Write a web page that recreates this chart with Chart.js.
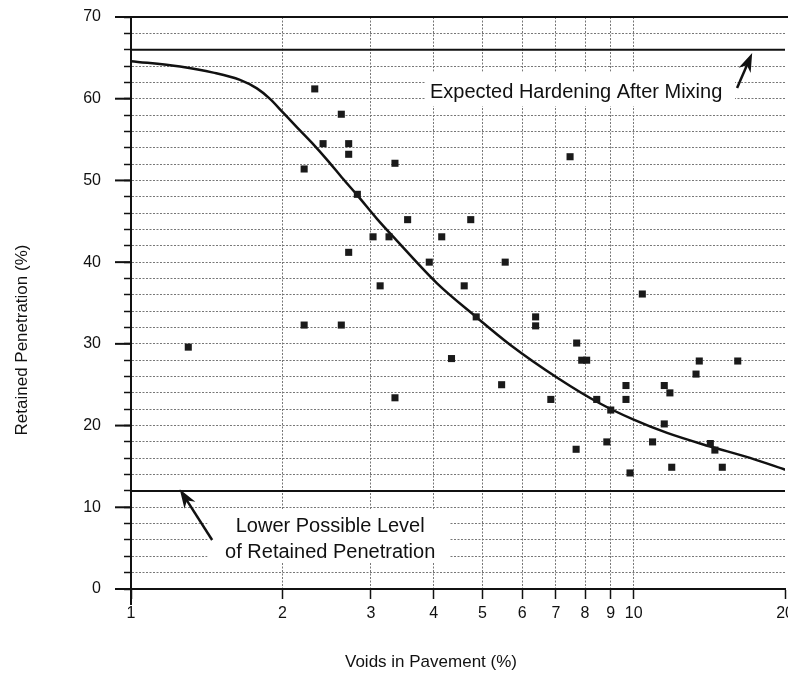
<!DOCTYPE html>
<html>
<head>
<meta charset="utf-8">
<title>Retained Penetration vs Voids in Pavement</title>
<script src="https://cdn.jsdelivr.net/npm/chart.js@4.4.1/dist/chart.umd.min.js"></script>
<style>
  html, body { margin: 0; padding: 0; background: #fff; overflow: hidden; }
</style>
</head>
<body>
<canvas id="chart" width="799" height="679"></canvas>
<script>
// measured samples: voids in pavement (%) and retained penetration (%)
var voids = [1.30, 2.21, 2.32, 2.41, 2.62, 2.71, 2.71, 2.82, 2.71, 2.21, 2.62,
  3.35, 3.55, 4.74, 3.03, 3.26, 4.15, 3.92, 5.55, 3.13, 4.60, 4.86, 4.34, 5.46, 3.35,
  7.47, 10.4, 6.38, 6.38, 7.70, 7.88, 8.06, 9.65, 6.84, 8.44, 9.65, 9.00, 8.84, 7.68,
  13.5, 16.1, 13.3, 11.5, 11.8, 11.5, 10.9, 14.2, 14.5, 11.9, 15.0, 9.83];
var retained = [29.6, 51.4, 61.2, 54.5, 58.1, 54.5, 53.2, 48.3, 41.2, 32.3, 32.3,
  52.1, 45.2, 45.2, 43.1, 43.1, 43.1, 40.0, 40.0, 37.1, 37.1, 33.3, 28.2, 25.0, 23.4,
  52.9, 36.1, 33.3, 32.2, 30.1, 28.0, 28.0, 24.9, 23.2, 23.2, 23.2, 21.9, 18.0, 17.1,
  27.9, 27.9, 26.3, 24.9, 24.0, 20.2, 18.0, 17.8, 17.0, 14.9, 14.9, 14.2];

// trend curve drawn through the data
var curveVoids = [1, 1.252, 1.458, 1.647, 1.780, 1.890, 2.005, 2.139, 2.291, 2.465,
  2.640, 2.818, 3.085, 3.382, 4.062, 4.857, 5.675, 7.07, 8.57, 9.97, 11.65, 14.08, 17.03, 20];
var curvePen = [64.6, 63.93, 63.19, 62.3, 61.26, 59.98, 58.32, 56.5, 54.6, 52.4,
  50.2, 48.2, 45.3, 42.6, 37.4, 33.3, 29.9, 25.8, 22.7, 20.75, 19.1, 17.5, 16.05, 14.6];

// reference levels
var hardeningLevel = 66;
var lowerLevel = 12;

var xMin = 1, xMax = 20;
var xTicks = [1, 2, 3, 4, 5, 6, 7, 8, 9, 10, 20];
var yMin = 0, yMax = 70, yStep = 2;

var fontFam = '"Liberation Sans", Arial, Helvetica, sans-serif';

function toPoints(xs, ys) {
  return xs.map(function (x, i) { return { x: x, y: ys[i] }; });
}

// notes drawn on the plot (data coordinates)
var notes = [
  { lines: ['Expected Hardening After Mixing'], x: 7.68, y: [60.8],
    box: [3.85, 15.9, 59.1, 63.3], arrow: [16.05, 61.3, 17.2, 65.6] },
  { lines: ['Lower Possible Level', 'of Retained Penetration'], x: 2.49, y: [7.6, 4.5],
    box: [1.42, 4.31, 3.3, 9.7], arrow: [1.45, 6.0, 1.25, 12.2] }
];

function drawArrow(ctx, x1, y1, x2, y2) {
  var ang = Math.atan2(y2 - y1, x2 - x1);
  var hl = 19, hw = 6.5;
  ctx.save();
  ctx.strokeStyle = '#111';
  ctx.fillStyle = '#111';
  ctx.lineWidth = 2.5;
  ctx.beginPath();
  ctx.moveTo(x1, y1);
  ctx.lineTo(x2 - Math.cos(ang) * hl * 0.6, y2 - Math.sin(ang) * hl * 0.6);
  ctx.stroke();
  ctx.beginPath();
  ctx.moveTo(x2, y2);
  ctx.lineTo(x2 - Math.cos(ang) * hl + Math.sin(ang) * hw, y2 - Math.sin(ang) * hl - Math.cos(ang) * hw);
  ctx.lineTo(x2 - Math.cos(ang) * hl * 0.7, y2 - Math.sin(ang) * hl * 0.7);
  ctx.lineTo(x2 - Math.cos(ang) * hl - Math.sin(ang) * hw, y2 - Math.sin(ang) * hl + Math.cos(ang) * hw);
  ctx.closePath();
  ctx.fill();
  ctx.restore();
}

var decorations = {
  id: 'decorations',
  beforeDatasetsDraw: function (chart) {
    var ctx = chart.ctx, xs = chart.scales.x, ys = chart.scales.y, area = chart.chartArea;
    ctx.save();
    // blank boxes behind the notes
    ctx.fillStyle = '#fff';
    notes.forEach(function (n) {
      var l = xs.getPixelForValue(n.box[0]), r = xs.getPixelForValue(n.box[1]);
      var b = ys.getPixelForValue(n.box[2]), t = ys.getPixelForValue(n.box[3]);
      ctx.fillRect(l, t, r - l, b - t);
    });
    // top frame
    ctx.strokeStyle = '#111';
    ctx.lineWidth = 2;
    ctx.beginPath();
    ctx.moveTo(area.left - 16, ys.getPixelForValue(yMax));
    ctx.lineTo(chart.width, ys.getPixelForValue(yMax));
    ctx.stroke();
    // long ticks every 10
    for (var v = yMin; v <= yMax; v += 10) {
      var py = ys.getPixelForValue(v);
      ctx.beginPath();
      ctx.moveTo(area.left - 16, py);
      ctx.lineTo(area.left, py);
      ctx.stroke();
    }
    // axis stub below origin
    ctx.beginPath();
    ctx.moveTo(area.left, area.bottom);
    ctx.lineTo(area.left, area.bottom + 16);
    ctx.stroke();
    ctx.restore();
  },
  afterDatasetsDraw: function (chart) {
    var ctx = chart.ctx, xs = chart.scales.x, ys = chart.scales.y;
    ctx.save();
    ctx.fillStyle = '#111';
    ctx.font = '20px ' + fontFam;
    ctx.textAlign = 'center';
    ctx.textBaseline = 'middle';
    notes.forEach(function (n) {
      var px = xs.getPixelForValue(n.x);
      n.lines.forEach(function (s, i) {
        ctx.fillText(s, px, ys.getPixelForValue(n.y[i]));
      });
      drawArrow(ctx, xs.getPixelForValue(n.arrow[0]), ys.getPixelForValue(n.arrow[1]),
        xs.getPixelForValue(n.arrow[2]), ys.getPixelForValue(n.arrow[3]));
    });
    // axis titles
    ctx.font = '17px ' + fontFam;
    ctx.fillText('Voids in Pavement (%)', 431, 662);
    ctx.translate(22, 340);
    ctx.rotate(-Math.PI / 2);
    ctx.fillText('Retained Penetration (%)', 0, 0);
    ctx.restore();
  }
};

var ctx = document.getElementById('chart').getContext('2d');
var chart = new Chart(ctx, {
  type: 'scatter',
  data: {
    datasets: [{
      label: 'Samples',
      data: toPoints(voids, retained),
      pointStyle: 'rect',
      pointRadius: 5,
      pointHoverRadius: 5,
      backgroundColor: '#1a1a1a',
      borderColor: '#1a1a1a',
      borderWidth: 0
    }, {
      label: 'Trend',
      data: toPoints(curveVoids, curvePen),
      showLine: true,
      cubicInterpolationMode: 'monotone',
      pointRadius: 0,
      borderColor: '#111',
      borderWidth: 2.5,
      fill: false
    }, {
      label: 'Expected hardening after mixing',
      data: toPoints([xMin, xMax], [hardeningLevel, hardeningLevel]),
      showLine: true,
      pointRadius: 0,
      borderColor: '#111',
      borderWidth: 2
    }, {
      label: 'Lower possible level',
      data: toPoints([xMin, xMax], [lowerLevel, lowerLevel]),
      showLine: true,
      pointRadius: 0,
      borderColor: '#111',
      borderWidth: 2
    }]
  },
  options: {
    responsive: false,
    animation: false,
    events: [],
    layout: { padding: { top: 17, right: 0, left: 0, bottom: 0 } },
    plugins: {
      legend: { display: false },
      tooltip: { enabled: false }
    },
    scales: {
      x: {
        type: 'logarithmic',
        min: xMin,
        max: xMax,
        afterBuildTicks: function (scale) {
          scale.ticks = xTicks.map(function (v) { return { value: v }; });
        },
        afterFit: function (scale) { scale.height = 90; },
        ticks: {
          autoSkip: false,
          maxRotation: 0,
          padding: 5,
          color: '#111',
          font: { family: fontFam, size: 16 },
          callback: function (v) { return String(v); }
        },
        grid: {
          color: function (c) {
            var v = c.tick && c.tick.value;
            return (v === xMin || v === xMax) ? 'rgba(0,0,0,0)' : '#777';
          },
          lineWidth: 1,
          tickLength: 10,
          tickColor: '#111',
          tickWidth: 1.5
        },
        border: { color: '#111', width: 2, dash: [2, 1.5] }
      },
      y: {
        min: yMin,
        max: yMax,
        afterFit: function (scale) {
          scale.width = 131;
          scale.paddingTop = 8;
          scale.paddingBottom = 8;
        },
        ticks: {
          stepSize: yStep,
          autoSkip: false,
          padding: 23,
          color: '#111',
          font: { family: fontFam, size: 16 },
          callback: function (v) { return v % 10 === 0 ? String(v) : ''; }
        },
        grid: {
          color: function (c) {
            var v = c.tick && c.tick.value;
            return (v === yMin || v === yMax) ? 'rgba(0,0,0,0)' : '#777';
          },
          lineWidth: 1,
          tickLength: 7,
          tickColor: '#111',
          tickWidth: 1.5
        },
        border: { color: '#111', width: 2, dash: [2, 1.5] }
      }
    }
  },
  plugins: [decorations]
});
</script>
</body>
</html>
